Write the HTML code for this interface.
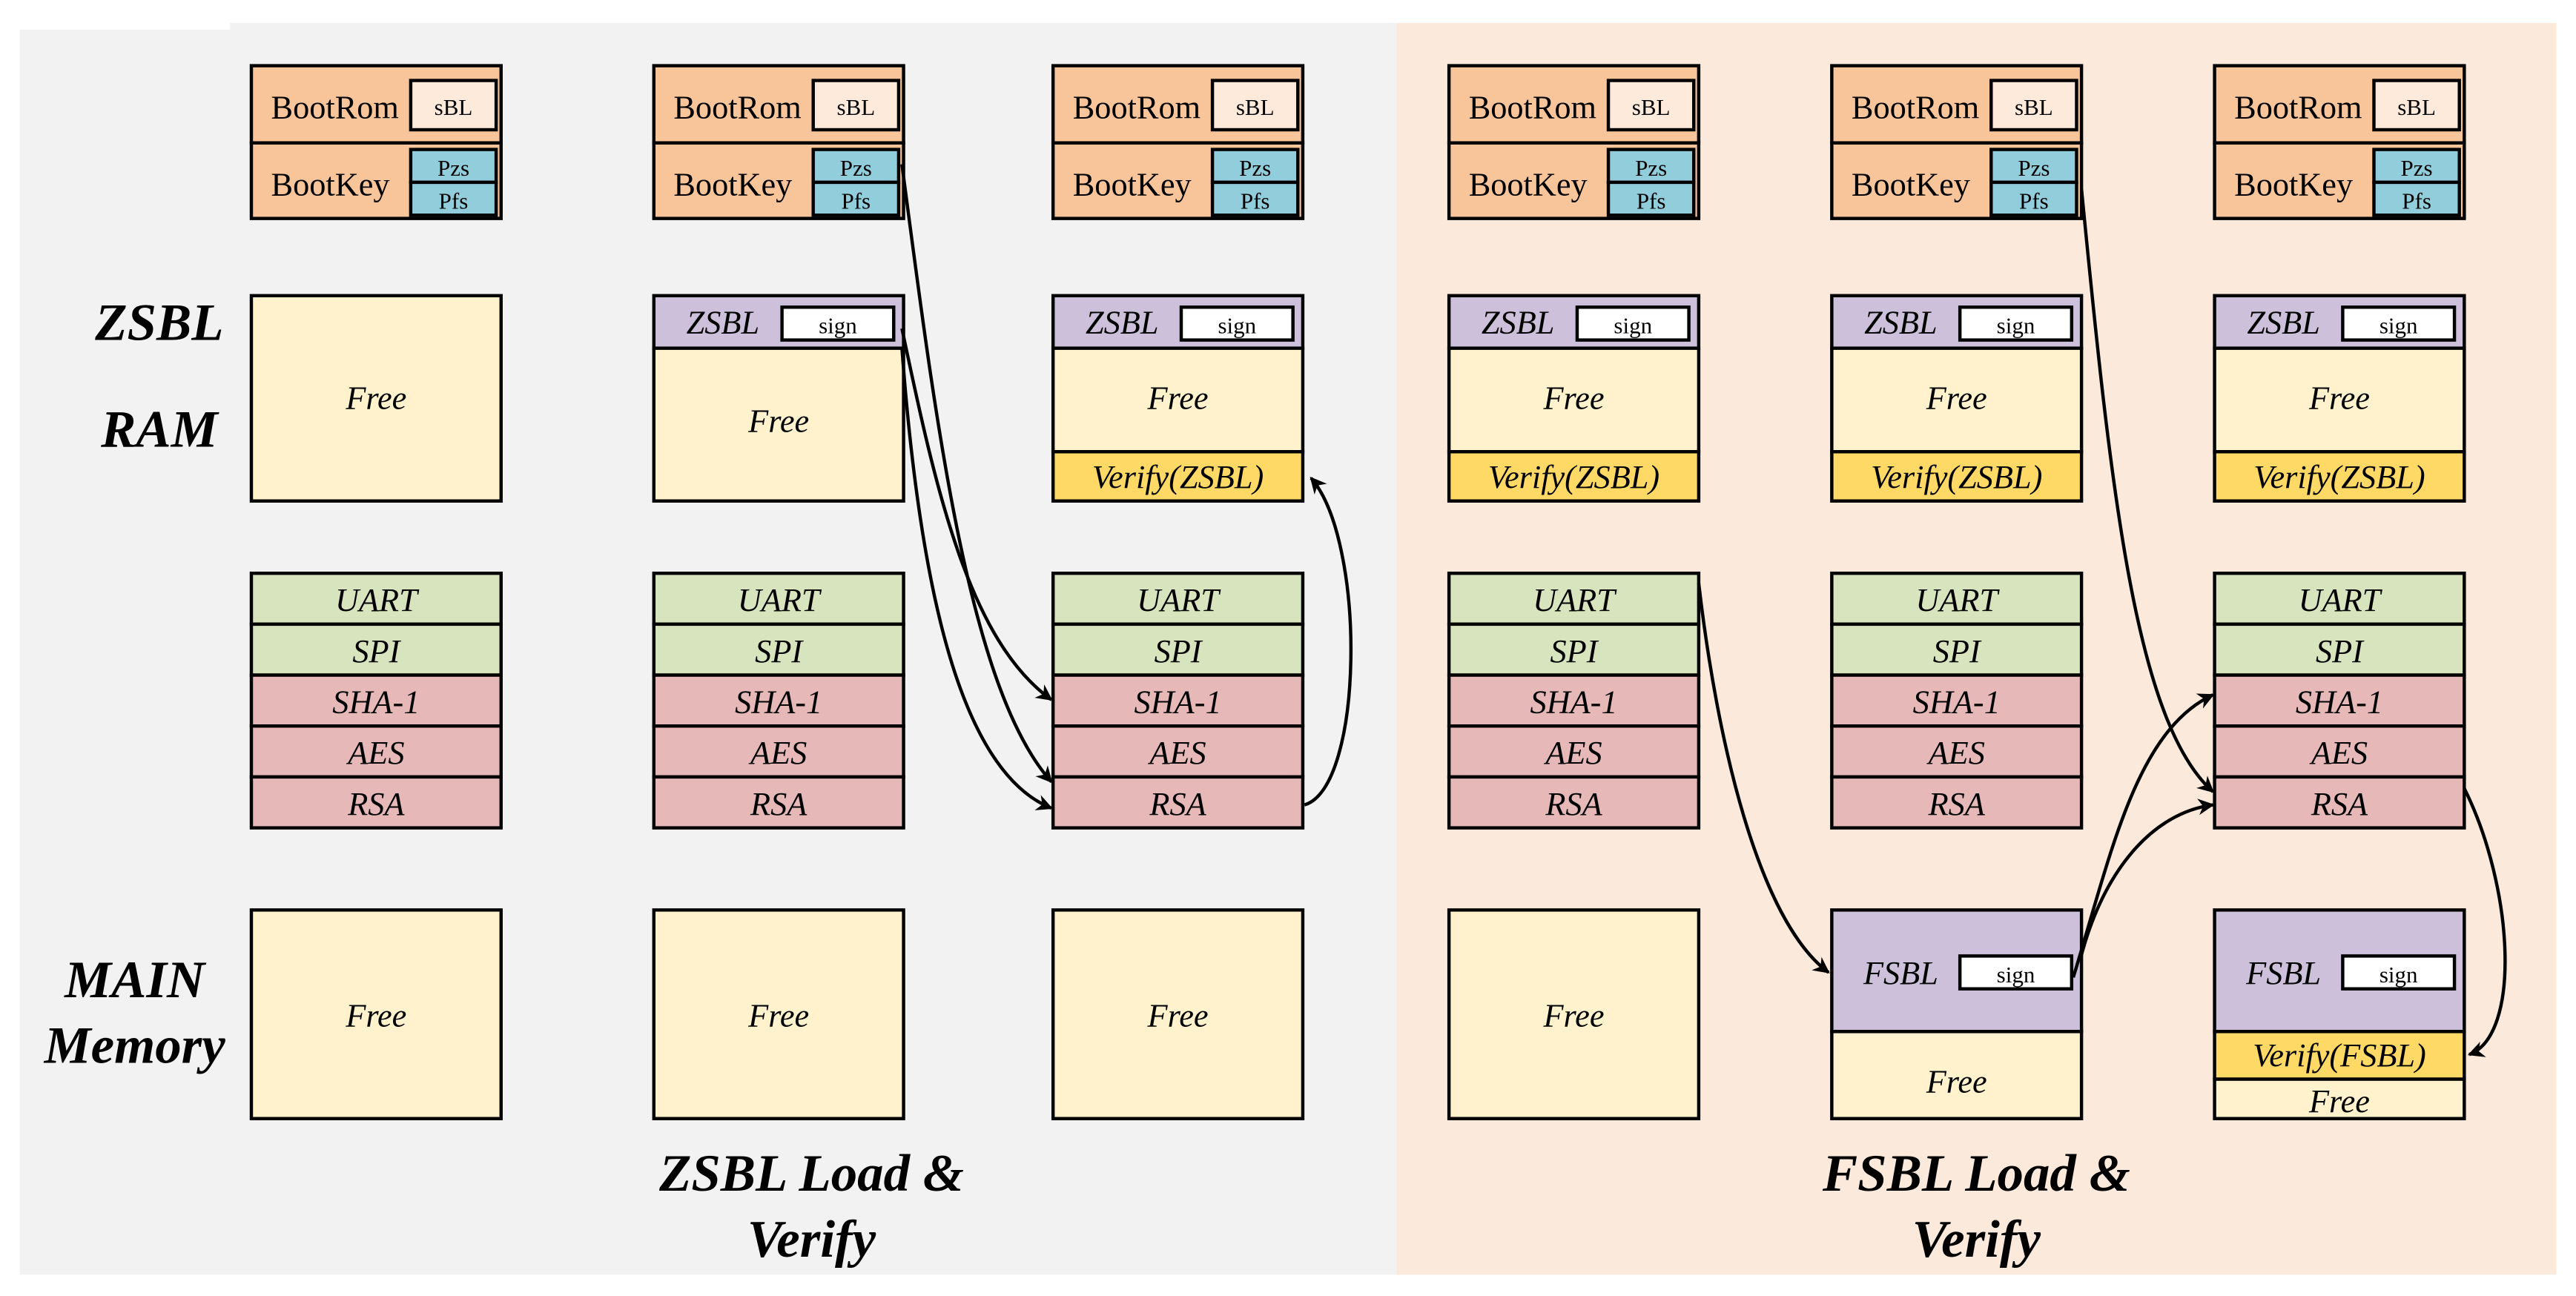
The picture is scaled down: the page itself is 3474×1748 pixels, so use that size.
<!DOCTYPE html>
<html><head><meta charset="utf-8"><style>
html,body{margin:0;padding:0;background:#fff;}
svg{display:block;}
</style></head><body>
<svg width="3474" height="1748" viewBox="0 0 1568 789" preserveAspectRatio="none" xmlns="http://www.w3.org/2000/svg" font-family="'Liberation Serif', serif">
<defs>
<marker id="a" viewBox="0 0 10 10" refX="9" refY="5" markerWidth="10" markerHeight="10" orient="auto" markerUnits="userSpaceOnUse"><path d="M0,0 L10,5 L0,10 L3,5 z" fill="#000"/></marker>
<g id="br" stroke="#000" stroke-width="2" font-size="20" font-family="'Liberation Serif', serif">
<rect x="0" y="40" width="152" height="47" fill="#f8c59a"/>
<rect x="0" y="87" width="152" height="46" fill="#f8c59a"/>
<rect x="97" y="49" width="52" height="30" fill="#fdeadb"/>
<rect x="97" y="91" width="52" height="20" fill="#92cddc"/>
<rect x="97" y="111" width="52" height="20" fill="#92cddc"/>
<text x="12" y="72" stroke="none">BootRom</text>
<text x="12" y="119" stroke="none">BootKey</text>
<text x="123" y="70" stroke="none" font-size="14" text-anchor="middle">sBL</text>
<text x="123" y="107" stroke="none" font-size="14" text-anchor="middle">Pzs</text>
<text x="123" y="127" stroke="none" font-size="14" text-anchor="middle">Pfs</text>
</g>
<g id="zv" stroke="#000" stroke-width="2" font-size="20" font-style="italic" text-anchor="middle" font-family="'Liberation Serif', serif">
<rect x="0" y="180" width="152" height="32" fill="#ccc0da"/>
<rect x="0" y="212" width="152" height="63" fill="#fff2cc"/>
<rect x="0" y="275" width="152" height="30" fill="#ffd966"/>
<rect x="78" y="187" width="68" height="20" fill="#fff"/>
<text x="42" y="203" stroke="none">ZSBL</text>
<text x="112" y="203" stroke="none" font-style="normal" font-size="14">sign</text>
<text x="76" y="249" stroke="none">Free</text>
<text x="76" y="297" stroke="none">Verify(ZSBL)</text>
</g>
<g id="pr" stroke="#000" stroke-width="2" font-size="20" font-style="italic" text-anchor="middle" font-family="'Liberation Serif', serif">
<rect x="0" y="349" width="152" height="31" fill="#d7e4bd"/>
<rect x="0" y="380" width="152" height="31" fill="#d7e4bd"/>
<rect x="0" y="411" width="152" height="31" fill="#e6b9b8"/>
<rect x="0" y="442" width="152" height="31" fill="#e6b9b8"/>
<rect x="0" y="473" width="152" height="31" fill="#e6b9b8"/>
<text x="76" y="372" stroke="none">UART</text>
<text x="76" y="403" stroke="none">SPI</text>
<text x="76" y="434" stroke="none">SHA-1</text>
<text x="76" y="465" stroke="none">AES</text>
<text x="76" y="496" stroke="none">RSA</text>
</g>
<g id="mf" stroke="#000" stroke-width="2" font-size="20" font-style="italic" text-anchor="middle" font-family="'Liberation Serif', serif">
<rect x="0" y="554" width="152" height="127" fill="#fff2cc"/><text x="76" y="625" stroke="none">Free</text>
</g>
</defs>
<rect x="0" y="0" width="1568" height="789" fill="#fff"/>
<rect x="12" y="18" width="838" height="758" fill="#f2f2f2"/>
<rect x="140" y="14" width="710" height="10" fill="#f2f2f2"/>
<rect x="850" y="14" width="706" height="762" fill="#fbe9db"/>
<use href="#br" x="153"/><use href="#br" x="398"/><use href="#br" x="641"/><use href="#br" x="882"/><use href="#br" x="1115"/><use href="#br" x="1348"/>
<use href="#zv" x="641"/><use href="#zv" x="882"/><use href="#zv" x="1115"/><use href="#zv" x="1348"/>
<use href="#pr" x="153"/><use href="#pr" x="398"/><use href="#pr" x="641"/><use href="#pr" x="882"/><use href="#pr" x="1115"/><use href="#pr" x="1348"/>
<use href="#mf" x="153"/><use href="#mf" x="398"/><use href="#mf" x="641"/><use href="#mf" x="882"/>
<g stroke="#000" stroke-width="2" font-size="20" font-style="italic" text-anchor="middle">
<rect x="153" y="180" width="152" height="125" fill="#fff2cc"/>
<text x="229" y="249" stroke="none">Free</text>
<rect x="398" y="180" width="152" height="32" fill="#ccc0da"/>
<rect x="398" y="212" width="152" height="93" fill="#fff2cc"/>
<rect x="476" y="187" width="68" height="20" fill="#fff"/>
<text x="440" y="203" stroke="none">ZSBL</text>
<text x="510" y="203" stroke="none" font-style="normal" font-size="14">sign</text>
<text x="474" y="263" stroke="none">Free</text>
<rect x="1115" y="554" width="152" height="74" fill="#ccc0da"/>
<rect x="1115" y="628" width="152" height="53" fill="#fff2cc"/>
<rect x="1193" y="582" width="68" height="20" fill="#fff"/>
<text x="1157" y="599" stroke="none">FSBL</text>
<text x="1227" y="598" stroke="none" font-style="normal" font-size="14">sign</text>
<text x="1191" y="665" stroke="none">Free</text>
<rect x="1348" y="554" width="152" height="74" fill="#ccc0da"/>
<rect x="1348" y="628" width="152" height="29" fill="#ffd966"/>
<rect x="1348" y="657" width="152" height="24" fill="#fff2cc"/>
<rect x="1426" y="582" width="68" height="20" fill="#fff"/>
<text x="1390" y="599" stroke="none">FSBL</text>
<text x="1460" y="598" stroke="none" font-style="normal" font-size="14">sign</text>
<text x="1424" y="649" stroke="none">Verify(FSBL)</text>
<text x="1424" y="677" stroke="none">Free</text>
</g>
<g font-weight="bold" font-style="italic" font-size="32" text-anchor="middle">
<text x="97" y="207">ZSBL</text>
<text x="97" y="272">RAM</text>
<text x="82" y="607">MAIN</text>
<text x="82" y="647">Memory</text>
<text x="494" y="725">ZSBL Load &amp;</text>
<text x="494" y="765">Verify</text>
<text x="1203" y="725">FSBL Load &amp;</text>
<text x="1203" y="765">Verify</text>
</g>
<g fill="none" stroke="#000" stroke-width="2" marker-end="url(#a)">
<path d="M549,100 C570,260 590,420 640,476"/>
<path d="M549,200 C570,300 590,390 640,426"/>
<path d="M549,212 C560,360 585,470 640,492"/>
<path d="M794,490 C830,480 832,330 798,291"/>
<path d="M1034,355 C1045,450 1070,560 1113,592"/>
<path d="M1267,115 C1285,300 1300,440 1347,482"/>
<path d="M1262,595 C1285,520 1300,445 1347,423"/>
<path d="M1266,585 C1280,530 1310,495 1347,490"/>
<path d="M1500,480 C1530,540 1535,630 1503,642"/>
</g>
</svg>
</body></html>
